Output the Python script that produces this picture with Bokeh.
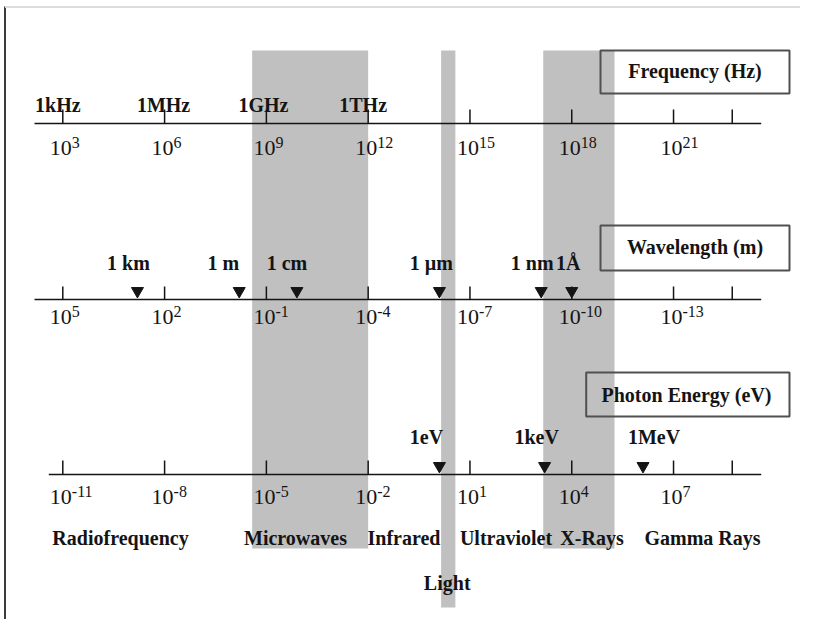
from bokeh.plotting import figure
from bokeh.models import Range1d
from bokeh.embed import file_html
from bokeh.resources import INLINE
from bokeh.core.properties import value

# ---------------- data (log10 exponents) ----------------
freq_tick_exp = [3, 6, 9, 12, 15, 18, 21]
freq_extra_tick_exp = [22.73]
freq_unit_labels = ["1kHz", "1MHz", "1GHz", "1THz"]
freq_unit_exp = [3, 6, 9, 12]

wave_tick_exp = [5, 2, -1, -4, -7, -10, -13]
wave_extra_tick_exp = [-14.73]
wave_marker_labels = ["1 km", "1 m", "1 cm", "1 µm", "1 nm", "1Å"]
wave_marker_exp = [2.8, -0.2, -1.9, -6.1, -9.1, -10.0]

energy_tick_exp = [-11, -8, -5, -2, 1, 4, 7]
energy_extra_tick_exp = [8.73]
energy_marker_labels = ["1eV", "1keV", "1MeV"]
energy_marker_exp = [0.1, 3.2, 6.1]

# shaded bands, in frequency exponent
band_names = ["Microwaves", "Light", "X-Rays"]
band_start_exp = [8.58, 14.15, 17.16]
band_end_exp = [12.0, 14.57, 19.26]

region_names = ["Radiofrequency", "Microwaves", "Infrared", "Ultraviolet",
                "X-Rays", "Gamma Rays", "Light"]
scale_titles = ["Frequency (Hz)", "Wavelength (m)", "Photon Energy (eV)"]


# scale relations used by the chart: log f = 8 - log lambda ; log f = log E + 14
def wave_to_f(e):
    return 8 - e


def energy_to_f(e):
    return e + 14


# ---------------- layout helpers ----------------
PX0, PPD = 62.3, 33.93   # screen x of 10^3 Hz, pixels per decade


def X(px):
    return 3 + (px - PX0) / PPD


DY = -6  # baseline correction for text

W, H = 800, 619
p = figure(width=W, height=H, output_backend="svg", toolbar_location=None,
           x_range=Range1d(X(0), X(W)), y_range=Range1d(H, 0),
           min_border=0, x_axis_location=None, y_axis_location=None)
p.grid.visible = False
p.outline_line_color = None
p.background_fill_color = "white"

SERIF = value("Liberation Serif")
INK = "#141414"
BAND = "#c0c0c0"
BOLD_SIZE = "20px"

# frame lines
p.segment(x0=[X(4.5)], y0=[6], x1=[X(4.5)], y1=[H], line_color="#3c3c3c", line_width=2)
p.segment(x0=[X(4.5)], y0=[6.5], x1=[X(W)], y1=[6.5], line_color="#dcdcdc", line_width=2)

# bands
p.quad(left=band_start_exp, right=band_end_exp, top=[50, 50, 50], bottom=[548, 607, 548],
       fill_color=BAND, line_color=None)

# title boxes
box_l = [X(600), X(600), X(585.7)]
box_r = [X(789), X(789), X(789)]
box_t = [50, 225, 372]
box_b = [93, 270, 416]
p.quad(left=box_l, right=box_r, top=box_t, bottom=box_b, fill_color=None,
       line_color="#505050", line_width=2)
p.text(x=[X(694.5), X(694.5), X(686)], y=[76 + DY, 252 + DY, 400 + DY], text=scale_titles,
       text_font=SERIF, text_font_style="bold", text_font_size=BOLD_SIZE,
       text_align="center", text_baseline="alphabetic", text_color=INK)

# axes rows: (tick positions in f-exponent, labels, line y, tick top, label baseline)
rows = [
    (freq_tick_exp, freq_extra_tick_exp, [str(e) for e in freq_tick_exp], 123, 109, 153, 34),
    ([wave_to_f(e) for e in wave_tick_exp], [wave_to_f(e) for e in wave_extra_tick_exp],
     [str(e) for e in wave_tick_exp], 299, 286, 322, 34),
    ([energy_to_f(e) for e in energy_tick_exp], [energy_to_f(e) for e in energy_extra_tick_exp],
     [str(e) for e in energy_tick_exp], 474, 460, 502, 48.3),
]
for ticks, extra, labels, ly, ty, by, x_start in rows:
    p.segment(x0=[X(x_start)], y0=[ly], x1=[X(760.7)], y1=[ly], line_color=INK, line_width=1.6)
    allt = list(ticks) + list(extra)
    p.segment(x0=allt, y0=[ty] * len(allt), x1=allt, y1=[ly] * len(allt),
              line_color=INK, line_width=1.5)
    p.text(x=list(ticks), y=[by + DY] * len(ticks), text=["10"] * len(ticks),
           text_font=SERIF, text_font_size="22px", text_align="left",
           text_baseline="alphabetic", x_offset=-13, text_color=INK)
    p.text(x=list(ticks), y=[by - 5 + DY] * len(ticks), text=labels,
           text_font=SERIF, text_font_size="16px", text_align="left",
           text_baseline="alphabetic", x_offset=9, text_color=INK)

# frequency unit labels
p.text(x=freq_unit_exp, y=[110 + DY] * 4, text=freq_unit_labels, text_font=SERIF,
       text_font_style="bold", text_font_size=BOLD_SIZE, text_align="center",
       text_baseline="alphabetic", x_offset=[-5, -1, -3, -5], text_color=INK)

# wavelength markers
wx = [wave_to_f(e) for e in wave_marker_exp]
p.scatter(x=wx, y=[290.5] * len(wx), marker="inverted_triangle", size=12,
          fill_color=INK, line_color=INK)
p.text(x=wx, y=[268 + DY] * len(wx), text=wave_marker_labels, text_font=SERIF,
       text_font_style="bold", text_font_size=BOLD_SIZE, text_align="center",
       text_baseline="alphabetic", x_offset=[-9, -16, -10, -8, -9, -3.5], text_color=INK)

# energy markers
ex = [energy_to_f(e) for e in energy_marker_exp]
p.scatter(x=ex, y=[465.5] * len(ex), marker="inverted_triangle", size=12,
          fill_color=INK, line_color=INK)
p.text(x=ex, y=[442 + DY] * len(ex), text=energy_marker_labels, text_font=SERIF,
       text_font_style="bold", text_font_size=BOLD_SIZE, text_align="center",
       text_baseline="alphabetic", x_offset=[-13, -8, 11], text_color=INK)

# region names
rx = [X(v) for v in [120, 295, 403.5, 505.5, 591.5, 702, 446.7]]
ry = [543 + DY] * 6 + [588 + DY]
p.text(x=rx, y=ry, text=region_names, text_font=SERIF, text_font_style="bold",
       text_font_size=BOLD_SIZE, text_align="center", text_baseline="alphabetic",
       text_color=INK)

open("out.html", "w").write(file_html(p, INLINE))
